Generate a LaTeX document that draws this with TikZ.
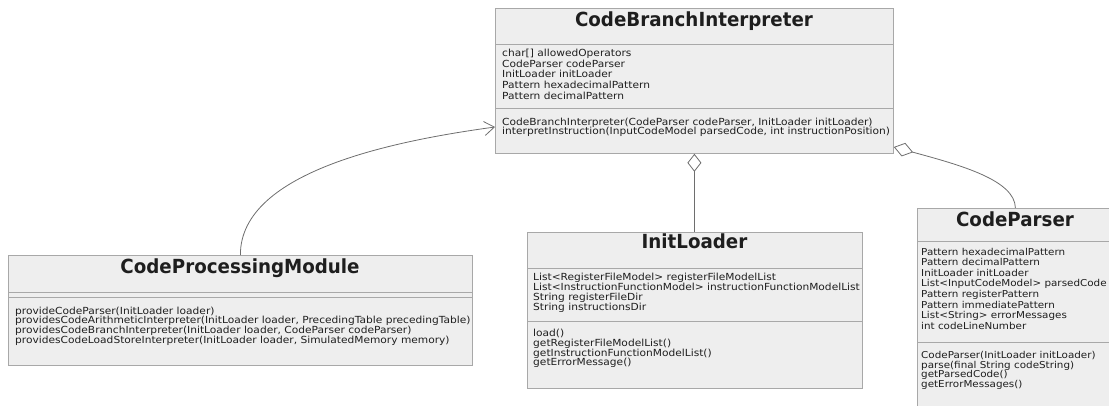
\documentclass[tikz,border=0pt]{standalone}
\usepackage{fontspec}
\setmainfont{DejaVu Sans}[FakeStretch=1.09]
\newfontfamily\headfamily{DejaVu Sans}[FakeStretch=0.94]
\usetikzlibrary{arrows.meta}

\definecolor{boxfill}{HTML}{EEEEEE}
\definecolor{boxline}{HTML}{A8A8A8}
\definecolor{wirecol}{HTML}{6E6E6E}
\definecolor{ink}{HTML}{1E1E1E}

\newcommand\bodyfont{\fontsize{9.8}{10}\selectfont}
\newcommand\narrowbodyfont{\fontsize{9.55}{10}\selectfont}
\newcommand\headfont{\headfamily\fontsize{19.5}{22}\selectfont\bfseries}

% #1 name prefix, #2 left x, #3 first baseline y, #4 line pitch, #5 list of lines
\newcommand\memberlines[5]{%
  \foreach \t [count=\i] in {#5} {%
    \node[member] (#1\i) at (#2, {#3+#4*(\i-1)}) {\t};
  }%
}

\begin{document}
\begin{tikzpicture}[x=1bp, y=-1bp,
  classbox/.style={draw=boxline, fill=boxfill, line width=0.8bp, inner sep=0,
                   anchor=north west},
  divider/.style={draw=boxline, line width=0.8bp},
  title/.style={anchor=base, inner sep=0, text=ink, font=\headfont},
  member/.style={anchor=base west, inner sep=0, text=ink, font=\bodyfont},
  wire/.style={draw=wirecol, line width=0.8bp}]

\useasboundingbox (0,0) rectangle (1109,405);
\clip (0,0) rectangle (1109,405);

% ---- CodeBranchInterpreter
\node[classbox, minimum width=398bp, minimum height=145bp] (cbi) at (495,8) {};
\draw[divider] (495,44) -- (893,44);
\draw[divider] (495,108) -- (893,108);
\node[title] (cbiT) at (694,26.7) {CodeBranchInterpreter};
\memberlines{cbiA}{502}{56.7}{10.6}{char[] allowedOperators, CodeParser codeParser,
  InitLoader initLoader, Pattern hexadecimalPattern, Pattern decimalPattern}
\memberlines{cbiM}{502}{125}{9.5}{{CodeBranchInterpreter(CodeParser codeParser, InitLoader initLoader)},
  {interpretInstruction(InputCodeModel parsedCode, int instructionPosition)}}

% ---- CodeProcessingModule
\node[classbox, minimum width=464bp, minimum height=110bp] (cpm) at (8,255) {};
\draw[divider] (8,292) -- (472,292);
\draw[divider] (8,297) -- (472,297);
\node[title] (cpmT) at (240,273.3) {CodeProcessingModule};
\memberlines{cpmM}{15}{314}{9.7}{{provideCodeParser(InitLoader loader)},
  {providesCodeArithmeticInterpreter(InitLoader loader, PrecedingTable precedingTable)},
  {providesCodeBranchInterpreter(InitLoader loader, CodeParser codeParser)},
  {providesCodeLoadStoreInterpreter(InitLoader loader, SimulatedMemory memory)}}

% ---- InitLoader
\node[classbox, minimum width=335bp, minimum height=156bp] (il) at (527,232) {};
\draw[divider] (527,268) -- (862,268);
\draw[divider] (527,321) -- (862,321);
\node[title] (ilT) at (694.5,248.5) {InitLoader};
\memberlines{ilA}{533}{280}{10}{List<RegisterFileModel> registerFileModelList,
  List<InstructionFunctionModel> instructionFunctionModelList,
  String registerFileDir, String instructionsDir}
\memberlines{ilM}{533}{336.7}{9.7}{load(), getRegisterFileModelList(),
  getInstructionFunctionModelList(), getErrorMessage()}

% ---- CodeParser (runs past the right and bottom edges)
\node[classbox, minimum width=196bp, minimum height=212bp] (cp) at (917,208) {};
\draw[divider] (917,241) -- (1113,241);
\draw[divider] (917,342) -- (1113,342);
\node[title] (cpT) at (1015,226) {CodeParser};
\begin{scope}[member/.append style={font=\narrowbodyfont}]
\memberlines{cpA}{921}{255}{10.6}{Pattern hexadecimalPattern, Pattern decimalPattern,
  InitLoader initLoader, List<InputCodeModel> parsedCode, Pattern registerPattern,
  Pattern immediatePattern, List<String> errorMessages, int codeLineNumber}
\memberlines{cpM}{921}{358.3}{9.7}{CodeParser(InitLoader initLoader), parse(final String codeString),
  getParsedCode(), getErrorMessages()}
\end{scope}

% ---- relations
\draw[wire, -{Straight Barb[length=10bp, width=14bp]}]
  (cpm.north) .. controls (240,170) and (400,140) .. (cbi.west |- 0,127);
\draw[wire, {Diamond[fill=white, length=18bp, width=14bp]}-]
  (cbi.south) -- (cbi.south |- il.north);
\draw[wire, {Diamond[fill=white, length=20bp, width=14bp]}-]
  (cbi.east |- 0,147) .. controls (960,165) and (1015,180) .. (cp.north);
\end{tikzpicture}
\end{document}
